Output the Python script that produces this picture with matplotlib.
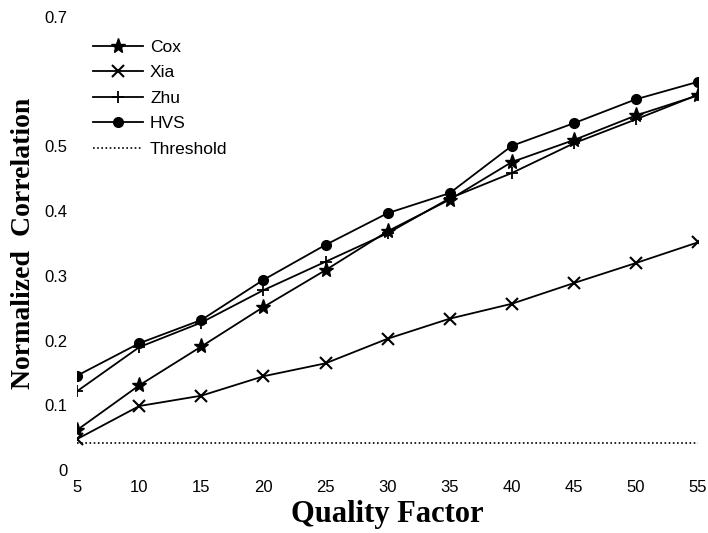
import matplotlib.pyplot as plt

quality = [5, 10, 15, 20, 25, 30, 35, 40, 45, 50, 55]
cox = [0.062, 0.131, 0.191, 0.252, 0.309, 0.369, 0.418, 0.476, 0.510, 0.548, 0.579]
xia = [0.048, 0.099, 0.115, 0.145, 0.165, 0.203, 0.234, 0.257, 0.289, 0.320, 0.352]
zhu = [0.122, 0.190, 0.228, 0.278, 0.322, 0.366, 0.420, 0.459, 0.505, 0.542, 0.580]
hvs = [0.146, 0.196, 0.232, 0.294, 0.348, 0.397, 0.428, 0.501, 0.536, 0.573, 0.600]
threshold = 0.042

fig = plt.figure(figsize=(7.08, 5.33), dpi=100)
ax = fig.add_axes([0.109, 0.118, 0.877, 0.85])

ax.plot(quality, cox, color="black", lw=1.3, marker="*", ms=11, label="Cox")
ax.plot(quality, xia, color="black", lw=1.3, marker="x", ms=8, mew=1.5, label="Xia")
ax.plot(quality, zhu, color="black", lw=1.3, marker="+", ms=9, mew=1.3, label="Zhu")
ax.plot(quality, hvs, color="black", lw=1.3, marker="o", ms=7, label="HVS")
ax.plot([quality[0], quality[-1]], [threshold, threshold], color="black", lw=1.2,
        ls=(0, (1, 1.5)), label="Threshold")

ax.set_xlim(5, 55)
ax.set_ylim(0, 0.7)
ax.set_xticks(quality)
ax.set_yticks([0, 0.1, 0.2, 0.3, 0.4, 0.5, 0.7])
ax.set_yticklabels(["0", "0.1", "0.2", "0.3", "0.4", "0.5", "0.7"])
ax.tick_params(length=0, labelsize=12, pad=7)
for lab in ax.get_xticklabels() + ax.get_yticklabels():
    lab.set_family("Liberation Sans")
for s in ax.spines.values():
    s.set_visible(False)

ax.set_xlabel("Quality Factor", family="Liberation Serif", fontweight="bold",
              fontsize=22, labelpad=4)
ax.set_ylabel("Normalized  Correlation", family="Liberation Serif", fontweight="bold",
              fontsize=20, labelpad=6)

ax.legend(loc="upper left", frameon=False, bbox_to_anchor=(0.0, 0.985),
          prop={"family": "Liberation Sans", "size": 12.5}, handlelength=2.9,
          labelspacing=0.6, handletextpad=0.4)

plt.savefig("out.png")
